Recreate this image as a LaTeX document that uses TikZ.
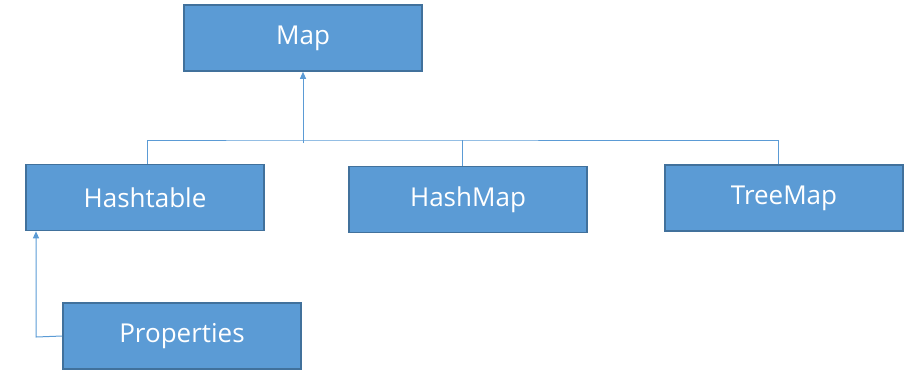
\documentclass[tikz,border=0pt]{standalone}
\usepackage{fontspec}
\setmainfont{Open Sans}
\usepackage{tikz}
\usetikzlibrary{arrows.meta,positioning}
\definecolor{boxc}{HTML}{5B9BD5}
\definecolor{edgec}{HTML}{41719C}
\tikzset{
  cls/.style={draw=edgec,line width=1.6pt,fill=boxc,text=white,minimum width=238pt,minimum height=66pt,inner sep=0pt,font=\fontsize{26}{30}\selectfont},
  ln/.style={boxc,line width=1pt},
  ar/.style={-{Triangle[length=7pt,width=6pt]},boxc,line width=1pt}
}
\begin{document}
\begin{tikzpicture}[x=1pt,y=-1pt]
\useasboundingbox (0,0) rectangle (912,376);
\node[cls] (map) at (303,38) {Map};
\node[cls] (hashtable) at (145,197.5) {Hashtable};
\node[cls] (hashmap) at (468,199.5) {HashMap};
\node[cls] (treemap) at (784,198) {TreeMap};
\node[cls] (properties) at (182,336) {Properties};
% bus line under Map
\coordinate (bus) at (303,140);
\coordinate (busend) at (303,143);
\draw[ar] (busend) -- (map.south);
\draw[ln] ([xshift=2pt]hashtable.north) |- (bus) -| ([xshift=-6pt]treemap.north);
\draw[ln] ([xshift=-6pt]hashmap.north) -- ([xshift=-6pt]hashmap.north |- bus);
% Properties -> Hashtable
\coordinate (kink) at (36,337);
\draw[ar] (properties.west) -- (kink) -- (kink |- hashtable.south);
\end{tikzpicture}
\end{document}
